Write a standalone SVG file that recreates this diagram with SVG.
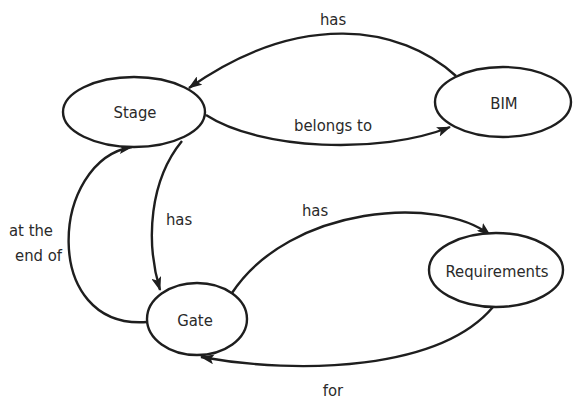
<svg xmlns="http://www.w3.org/2000/svg" width="573" height="403" viewBox="0 0 573 403">
<defs>
<style>
.node ellipse{fill:#fff;stroke:#1e1e1e;stroke-width:2.4}
.edge{fill:none;stroke:#1e1e1e;stroke-width:2.4}
text{font-family:"DejaVu Sans Condensed","DejaVu Sans",sans-serif;font-size:16.5px;fill:#2a2a2a;text-anchor:middle}
</style>
<marker id="arr" viewBox="0 0 14 10" refX="13" refY="5" markerWidth="14" markerHeight="10" markerUnits="userSpaceOnUse" orient="auto">
<path d="M0,0 L14,5 L0,10 L3,5 Z" fill="#1e1e1e"/>
</marker>
</defs>
<rect width="573" height="403" fill="#fff"/>
<g id="connectors">
<path class="edge" d="M456 76 C400 25,300 10,189 88" marker-end="url(#arr)"/>
<path class="edge" d="M206 115 C260 150,380 155,450 127" marker-end="url(#arr)"/>
<path class="edge" d="M182 141 C150 180,145 240,160 290" marker-end="url(#arr)"/>
<path class="edge" d="M147 322 C40 330,50 160,132 147" marker-end="url(#arr)"/>
<path class="edge" d="M232 293 C290 205,440 195,490 235" marker-end="url(#arr)"/>
<path class="edge" d="M493 307 C440 370,300 375,201 357" marker-end="url(#arr)"/>
<text x="333" y="25">has</text>
<text x="333" y="131">belongs to</text>
<text x="179" y="225">has</text>
<text x="53" y="236" style="text-anchor:end">at the</text>
<text x="62" y="261" style="text-anchor:end">end of</text>
<text x="315" y="216">has</text>
<text x="333" y="396">for</text>
</g>
<g id="stage" class="node"><ellipse cx="134" cy="112" rx="71" ry="35"/><text x="135" y="118">Stage</text></g>
<g id="bim" class="node"><ellipse cx="503" cy="102" rx="68" ry="35"/><text x="504" y="109">BIM</text></g>
<g id="gate" class="node"><ellipse cx="197" cy="319" rx="50" ry="36"/><text x="195" y="326">Gate</text></g>
<g id="requirements" class="node"><ellipse cx="496" cy="270" rx="67" ry="37"/><text x="497" y="277">Requirements</text></g>
</svg>
